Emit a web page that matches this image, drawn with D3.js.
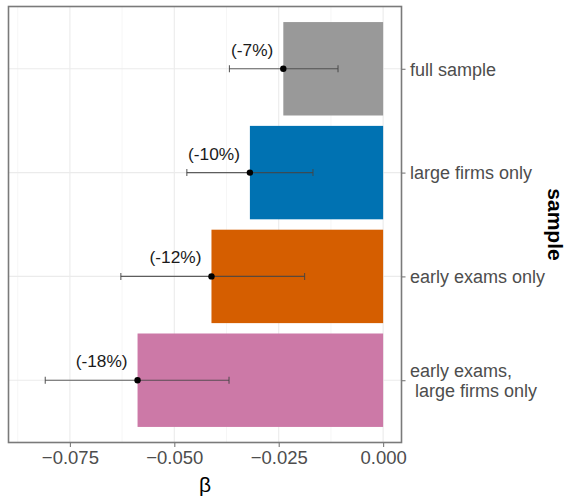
<!DOCTYPE html>
<html>
<head>
<meta charset="utf-8">
<script src="https://cdn.jsdelivr.net/npm/d3@7"></script>
<style>
  html, body { margin: 0; padding: 0; background: #fff; }
  svg { display: block; font-family: "Liberation Sans", Arial, sans-serif; }
</style>
</head>
<body>
<svg id="chart" width="568" height="497"></svg>
<script>
// Samples, top to bottom
const samples = ["full sample", "large firms only", "early exams only", "early exams,\n large firms only"];
// Point estimates of beta
const beta = [-0.0239, -0.0319, -0.0411, -0.0588];
// Confidence interval bounds
const ciLow = [-0.0368, -0.0470, -0.0628, -0.0809];
const ciHigh = [-0.0108, -0.0168, -0.0188, -0.0369];
// Percentage labels
const pctLabels = ["(-7%)", "(-10%)", "(-12%)", "(-18%)"];
// Bar fills
const fills = ["#999999", "#0072B2", "#D55E00", "#CC79A7"];
// Axis ticks
const xTicks = [-0.075, -0.050, -0.025, 0.000];
const xMinor = [-0.0875, -0.0625, -0.0375, -0.0125];

const rows = samples.map((s, i) => ({
  sample: s, beta: beta[i], lo: ciLow[i], hi: ciHigh[i], label: pctLabels[i], fill: fills[i]
}));

const svg = d3.select("#chart");
const panel = { left: 8.5, right: 401.5, top: 6.5, bottom: 442.5 };

const x = d3.scaleLinear().domain([-0.0897, 0.0044]).range([panel.left, panel.right]);
const y = d3.scalePoint().domain(samples).range([panel.top, panel.bottom]).padding(0.6);
const barH = y.step() * 0.9;

// grid
const grid = svg.append("g");
grid.selectAll(".minor").data(xMinor).join("line")
  .attr("x1", d => x(d)).attr("x2", d => x(d))
  .attr("y1", panel.top).attr("y2", panel.bottom)
  .attr("stroke", "#f2f2f2").attr("stroke-width", 0.7);
grid.selectAll(".major").data(xTicks).join("line")
  .attr("x1", d => x(d)).attr("x2", d => x(d))
  .attr("y1", panel.top).attr("y2", panel.bottom)
  .attr("stroke", "#ebebeb").attr("stroke-width", 1.1);
grid.selectAll(".hmajor").data(samples).join("line")
  .attr("x1", panel.left).attr("x2", panel.right)
  .attr("y1", d => y(d)).attr("y2", d => y(d))
  .attr("stroke", "#ebebeb").attr("stroke-width", 1.1);

// bars
svg.append("g").selectAll("rect").data(rows).join("rect")
  .attr("x", d => x(d.beta))
  .attr("width", d => x(0) - x(d.beta))
  .attr("y", d => y(d.sample) - barH / 2)
  .attr("height", barH)
  .attr("fill", d => d.fill);

// error bars
const eb = svg.append("g").attr("stroke", "#444").attr("stroke-opacity", 0.85).attr("stroke-width", 1.1);
eb.selectAll(".h").data(rows).join("line")
  .attr("x1", d => x(d.lo)).attr("x2", d => x(d.hi))
  .attr("y1", d => y(d.sample)).attr("y2", d => y(d.sample));
eb.selectAll(".cl").data(rows).join("line")
  .attr("x1", d => x(d.lo)).attr("x2", d => x(d.lo))
  .attr("y1", d => y(d.sample) - 3.5).attr("y2", d => y(d.sample) + 3.5);
eb.selectAll(".ch").data(rows).join("line")
  .attr("x1", d => x(d.hi)).attr("x2", d => x(d.hi))
  .attr("y1", d => y(d.sample) - 3.5).attr("y2", d => y(d.sample) + 3.5);

// points
svg.append("g").selectAll("circle").data(rows).join("circle")
  .attr("cx", d => x(d.beta)).attr("cy", d => y(d.sample)).attr("r", 3.2)
  .attr("fill", "#000");

// percentage labels
svg.append("g").selectAll("text").data(rows).join("text")
  .attr("x", d => x(d.beta) - 10)
  .attr("y", d => y(d.sample) - 19)
  .attr("dy", "0.35em")
  .attr("text-anchor", "end")
  .attr("font-size", 17.3)
  .attr("fill", "#1a1a1a")
  .text(d => d.label);

// panel border
svg.append("rect")
  .attr("x", panel.left).attr("y", panel.top)
  .attr("width", panel.right - panel.left).attr("height", panel.bottom - panel.top)
  .attr("fill", "none").attr("stroke", "#7a7a7a").attr("stroke-width", 1.6);

// bottom axis
const xAxis = svg.append("g").attr("transform", `translate(0,${panel.bottom})`)
  .call(d3.axisBottom(x).tickValues(xTicks).tickFormat(d3.format(".3f")).tickSize(4.5).tickPadding(4));
xAxis.select(".domain").remove();
xAxis.selectAll(".tick line").attr("stroke", "#7a7a7a").attr("stroke-width", 1.1);
xAxis.selectAll(".tick text").attr("font-size", 18.5).attr("fill", "#4d4d4d")
  .attr("font-family", "Liberation Sans, Arial, sans-serif");

// right axis
const yAxis = svg.append("g").attr("transform", `translate(${panel.right},0)`)
  .call(d3.axisRight(y).tickSize(4).tickPadding(4).tickFormat(""));
yAxis.select(".domain").remove();
yAxis.selectAll(".tick line").attr("stroke", "#7a7a7a").attr("stroke-width", 1.1);
yAxis.selectAll(".tick").each(function (d) {
  const lines = d.split("\n");
  const t = d3.select(this).append("text")
    .attr("x", 8.5)
    .attr("font-size", 18)
    .attr("fill", "#4d4d4d")
    .attr("text-anchor", "start")
    .attr("font-family", "Liberation Sans, Arial, sans-serif")
    .style("white-space", "pre");
  const lh = 20;
  lines.forEach((ln, i) => {
    t.append("tspan").attr("x", 8.5)
      .attr("y", (i - (lines.length - 1) / 2) * lh)
      .attr("dy", "0.35em")
      .text(ln);
  });
});

// axis titles
svg.append("text")
  .attr("x", (panel.left + panel.right) / 2)
  .attr("y", 485).attr("dy", "0.35em")
  .attr("text-anchor", "middle")
  .attr("font-size", 21)
  .attr("fill", "#000")
  .text("β");

svg.append("text")
  .attr("transform", `translate(555,${(panel.top + panel.bottom) / 2}) rotate(90)`)
  .attr("dy", "0.35em")
  .attr("text-anchor", "middle")
  .attr("font-size", 21)
  .attr("font-weight", "bold")
  .attr("fill", "#000")
  .text("sample");
</script>
</body>
</html>
